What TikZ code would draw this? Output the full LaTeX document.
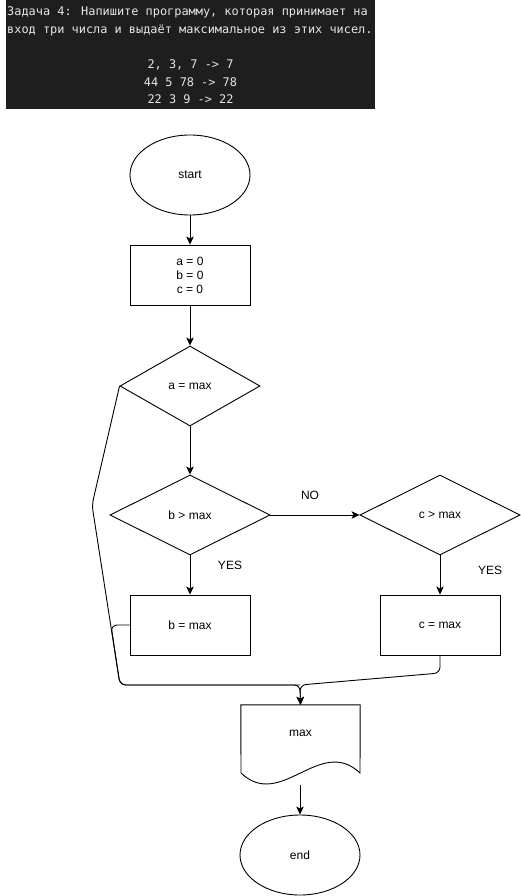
\documentclass[tikz,border=0pt]{standalone}
\usepackage{fontspec}
\setmainfont{Liberation Sans}
\newfontfamily\codefont{DejaVu Sans Mono}
\usetikzlibrary{shapes.geometric,arrows.meta}
\definecolor{codebg}{HTML}{1E1E1E}
\definecolor{codefg}{HTML}{E6E6E6}
\tikzset{
  every node/.style={font=\fontsize{12}{14}\selectfont},
  line/.style={draw=black,line width=0.9pt},
  arr/.style={line,-{Stealth[length=8pt,width=7.5pt,inset=2pt]}},
  term/.style={line,ellipse,minimum width=120pt,minimum height=80pt,inner sep=0pt},
  proc/.style={line,rectangle,minimum width=120pt,minimum height=60pt,inner sep=0pt,align=center},
  dec/.style={line,diamond,aspect=1.75,inner sep=0pt},
  codetxt/.style={font=\codefont\fontsize{11.9}{14}\selectfont,text=codefg,inner sep=0pt,anchor=base west},
  codec/.style={font=\codefont\fontsize{11.9}{14}\selectfont,text=codefg,inner sep=0pt,anchor=base},
  lbl/.style={inner sep=0pt}
}
\begin{document}
\begin{tikzpicture}[x=1pt,y=-1pt]
\useasboundingbox (0,0) rectangle (521,896);
% header
\fill[codebg] (6,0) rectangle (375,109);
\node[codetxt] (h1) at (7,16) {Задача 4: Напишите программу, которая принимает на};
\node[codetxt] (h2) at (7,34) {вход три числа и выдаёт максимальное из этих чисел.};
\node[codec] (h3) at (190.5,69) {2, 3, 7 -> 7};
\node[codec] (h4) at (190.5,86.5) {44 5 78 -> 78};
\node[codec] (h5) at (190.5,104) {22 3 9 -> 22};
% nodes
\node[term] (start) at (190,175) {start};
\node[proc] (init) at (190,275) {a = 0\\b = 0\\c = 0};
\node[dec,minimum width=140pt,minimum height=80pt] (d1) at (190,386) {a = max};
\node[dec,minimum width=160pt,minimum height=80pt] (d2) at (190,515) {b > max};
\node[dec,minimum width=160pt,minimum height=80pt] (d3) at (440,515) {c > max};
\node[proc] (bbox) at (190,625) {b = max};
\node[proc] (cbox) at (440,625) {c = max};
\node[inner sep=0pt,minimum width=119pt,minimum height=68pt] (doc) at (300.5,739) {};
\node (doctext) at (300.5,733) {max};
\draw[line] (doc.north east) -- (doc.north west) -- (241,773)
  .. controls (281,811) and (320,735) .. (360,773) -- cycle;
\coordinate (docb) at (300,785);
\node[term] (end) at (300,855) {end};
% labels
\node[lbl] (no) at (310,495) {NO};
\node[lbl] (yes1) at (230,565) {YES};
\node[lbl] (yes2) at (490,570) {YES};
% waypoints
\coordinate (w1) at (92,505);
\coordinate (w2) at (120,685);
\coordinate (w3) at (300,685);
\coordinate (w4) at (111,625);
\coordinate (w5) at (440,673);
% connectors
\draw[arr] (start) -- (init);
\draw[arr] (init) -- (d1);
\draw[arr] (d1) -- (d2);
\draw[arr] (d2) -- (bbox);
\draw[arr] (d2) -- (d3);
\draw[arr] (d3) -- (cbox);
\draw[arr,rounded corners=6pt] (d1.west) -- (w1) -- (w2) -- (w3) -- (doc.north);
\draw[line,rounded corners=6pt] (bbox.west) -- (w4) -- (w2) -- (w3);
\draw[arr,rounded corners=6pt] (cbox.south) -- (w5) -- (w3) -- (doc.north);
\draw[arr] (docb) -- (end);
\end{tikzpicture}
\end{document}
